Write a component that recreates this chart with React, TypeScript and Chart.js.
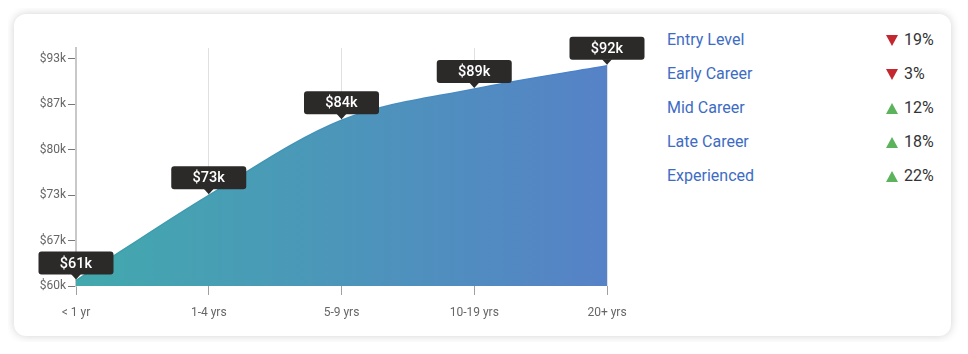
import React, { useEffect, useRef } from "react";
import { Chart, registerables } from "chart.js";

Chart.register(...registerables);

const categories = ["< 1 yr", "1-4 yrs", "5-9 yrs", "10-19 yrs", "20+ yrs"];
const salaries = [60.8, 73.3, 84.3, 88.9, 92.3];
const yTickValues = [60, 66.66, 73.32, 79.98, 86.64, 93.3];
const yTickLabels = ["$60k", "$67k", "$73k", "$80k", "$87k", "$93k"];

const legendNames = ["Entry Level", "Early Career", "Mid Career", "Late Career", "Experienced"];
const legendChanges = [-19, -3, 12, 18, 22];

const FONT = "Roboto, 'Noto Sans', sans-serif";

const bubblePlugin = {
  id: "bubbles",
  afterDraw(chart: any) {
    const ctx = chart.ctx;
    const meta = chart.getDatasetMeta(0);
    ctx.save();
    meta.data.forEach((pt: any, i: number) => {
      const x = pt.x;
      const y = pt.y;
      const w = 75;
      const h = 23;
      const bottom = y - 6;
      const top = bottom - h;
      const left = x - w / 2;
      ctx.fillStyle = "#2c2929";
      ctx.beginPath();
      if (ctx.roundRect) ctx.roundRect(left, top, w, h, 3);
      else ctx.rect(left, top, w, h);
      ctx.fill();
      ctx.beginPath();
      ctx.moveTo(x - 5, bottom - 0.5);
      ctx.lineTo(x + 5, bottom - 0.5);
      ctx.lineTo(x, bottom + 5);
      ctx.closePath();
      ctx.fill();
      ctx.fillStyle = "#ffffff";
      ctx.font = `500 14.5px ${FONT}`;
      ctx.textAlign = "center";
      ctx.textBaseline = "middle";
      ctx.fillText(`$${Math.round(salaries[i])}k`, x, top + h / 2 + 1);
    });
    ctx.restore();
  },
};

function makeGradient(chart: any, c1: string, c2: string) {
  const area = chart.chartArea;
  if (!area) return c1;
  const g = chart.ctx.createLinearGradient(area.left, 0, area.right, 0);
  g.addColorStop(0, c1);
  g.addColorStop(1, c2);
  return g;
}

function SalaryChart() {
  const ref = useRef<HTMLCanvasElement | null>(null);
  useEffect(() => {
    if (!ref.current) return;
    const chart = new Chart(ref.current, {
      type: "line",
      data: {
        labels: categories,
        datasets: [
          {
            data: salaries,
            fill: "start",
            cubicInterpolationMode: "monotone",
            pointRadius: 0,
            pointHoverRadius: 0,
            borderWidth: 1.5,
            borderColor: (c: any) => makeGradient(c.chart, "#3ba2a8", "#4d80cc"),
            backgroundColor: (c: any) => makeGradient(c.chart, "#42a9ad", "#5682c7"),
          } as any,
        ],
      },
      options: {
        animation: false,
        responsive: true,
        maintainAspectRatio: false,
        layout: { padding: { top: 24, right: 38, left: 0, bottom: 0 } },
        plugins: { legend: { display: false }, tooltip: { enabled: false } },
        events: [],
        scales: {
          x: {
            z: 1,
            offset: false,
            grid: {
              color: "rgba(0,0,0,0.12)",
              tickColor: "#a0a0a0",
              tickLength: 9,
              lineWidth: 1,
            },
            border: { display: false },
            ticks: { color: "#666", font: { family: FONT, size: 12 }, padding: 11, maxRotation: 0 },
            afterFit: (s: any) => {
              s.height = 44;
            },
          },
          y: {
            z: 1,
            min: 60,
            max: 94.9,
            afterBuildTicks: (s: any) => {
              s.ticks = yTickValues.map((v) => ({ value: v }));
            },
            grid: {
              drawOnChartArea: false,
              drawTicks: true,
              tickLength: 8,
              tickColor: "#777",
            },
            border: { display: true, color: "#c8c8c8", width: 2 },
            ticks: {
              color: "#666",
              font: { family: FONT, size: 12 },
              padding: 2,
              callback: (_v: any, i: number) => yTickLabels[i],
            },
            afterFit: (s: any) => {
              s.width = 52;
            },
          },
        },
      } as any,
      plugins: [bubblePlugin],
    });
    return () => chart.destroy();
  }, []);
  return (
    <div style={{ position: "absolute", left: 10, top: 10, width: 621, height: 306 }}>
      <canvas ref={ref} />
    </div>
  );
}

export default function App() {
  return (
    <div style={{ padding: 6, fontFamily: FONT }}>
      <div
        style={{
          position: "relative",
          width: 937,
          height: 322,
          borderRadius: 12,
          background: "#fff",
          boxShadow: "0 0 10px rgba(0,0,0,0.18)",
        }}
      >
        <SalaryChart />
        {legendNames.map((name, i) => {
          const up = legendChanges[i] > 0;
          const cy = 26 + i * 34;
          return (
            <React.Fragment key={name}>
              <div
                style={{
                  position: "absolute",
                  left: 653,
                  top: cy - 10,
                  height: 20,
                  lineHeight: "20px",
                  fontSize: 16,
                  color: "#3d6cc4",
                  whiteSpace: "nowrap",
                }}
              >
                {name}
              </div>
              <div
                style={{
                  position: "absolute",
                  left: 872,
                  top: cy - 5,
                  width: 0,
                  height: 0,
                  borderLeft: "6px solid transparent",
                  borderRight: "6px solid transparent",
                  ...(up
                    ? { borderBottom: "11px solid #5cb35c" }
                    : { borderTop: "11px solid #c4272e" }),
                }}
              />
              <div
                style={{
                  position: "absolute",
                  left: 890,
                  top: cy - 10,
                  height: 20,
                  lineHeight: "20px",
                  fontSize: 16,
                  color: "#333",
                  whiteSpace: "nowrap",
                }}
              >
                {Math.abs(legendChanges[i])}%
              </div>
            </React.Fragment>
          );
        })}
      </div>
    </div>
  );
}
